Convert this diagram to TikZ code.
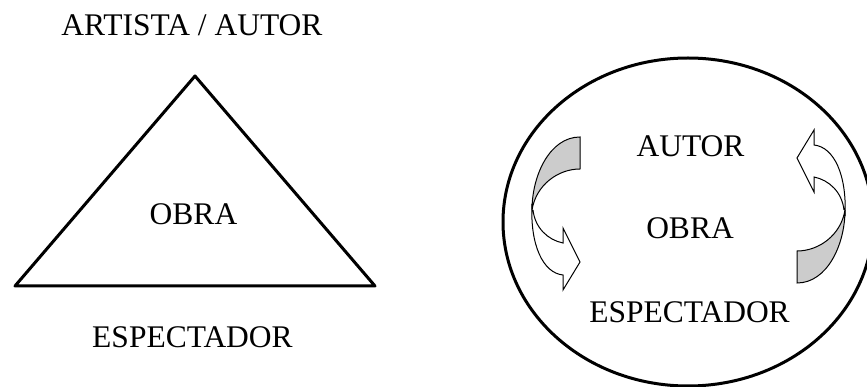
\documentclass[tikz,border=0pt]{standalone}
\usepackage{fontspec}
\setmainfont{Liberation Serif}
\begin{document}
\begin{tikzpicture}[x=1pt,y=-1pt,
  lbl/.style={anchor=base,inner sep=0pt,font=\fontsize{31.5}{36}\selectfont},
  thick line/.style={line width=3pt,line join=round,line cap=round},
  band/.style={line width=1pt,line join=miter}]
\useasboundingbox (0,0) rectangle (867,387);
\clip (0,0) rectangle (867,387);
% left: triangle
\coordinate (apex) at (195,76);
\coordinate (bl) at (15,286);
\coordinate (br) at (375,286);
\draw[thick line] (apex) -- (bl) -- (br) -- cycle;
\node[lbl] (artista) at (192,36) {ARTISTA / AUTOR};
\node[lbl] (obra1) at (193.5,225) {OBRA};
\node[lbl] (esp1) at (192.5,347) {ESPECTADOR};
% right: ellipse
\coordinate (ec) at (688,222);
\draw[line width=3pt] (ec) ellipse [x radius=185pt, y radius=164pt];
\node[lbl] (autor2) at (690.5,157) {AUTOR};
\node[lbl] (obra2) at (690,239) {OBRA};
\node[lbl] (esp2) at (689.5,322) {ESPECTADOR};
% curved arrows
\foreach \r in {0,180}{
\begin{scope}[rotate around={\r:(688.5,210)}]
  \draw[band,fill=white] (532,204) .. controls (530,245) and (543,273) .. (563,275)
     -- (563,290) -- (580,262) -- (563,228) -- (563,243)
     .. controls (548,240) and (535,228) .. (533,210);
  \draw[band,fill=black!20] (580,137) .. controls (550,137) and (532,175) .. (532,210)
     .. controls (536,185) and (558,169) .. (580,169) -- cycle;
\end{scope}}
\end{tikzpicture}
\end{document}
